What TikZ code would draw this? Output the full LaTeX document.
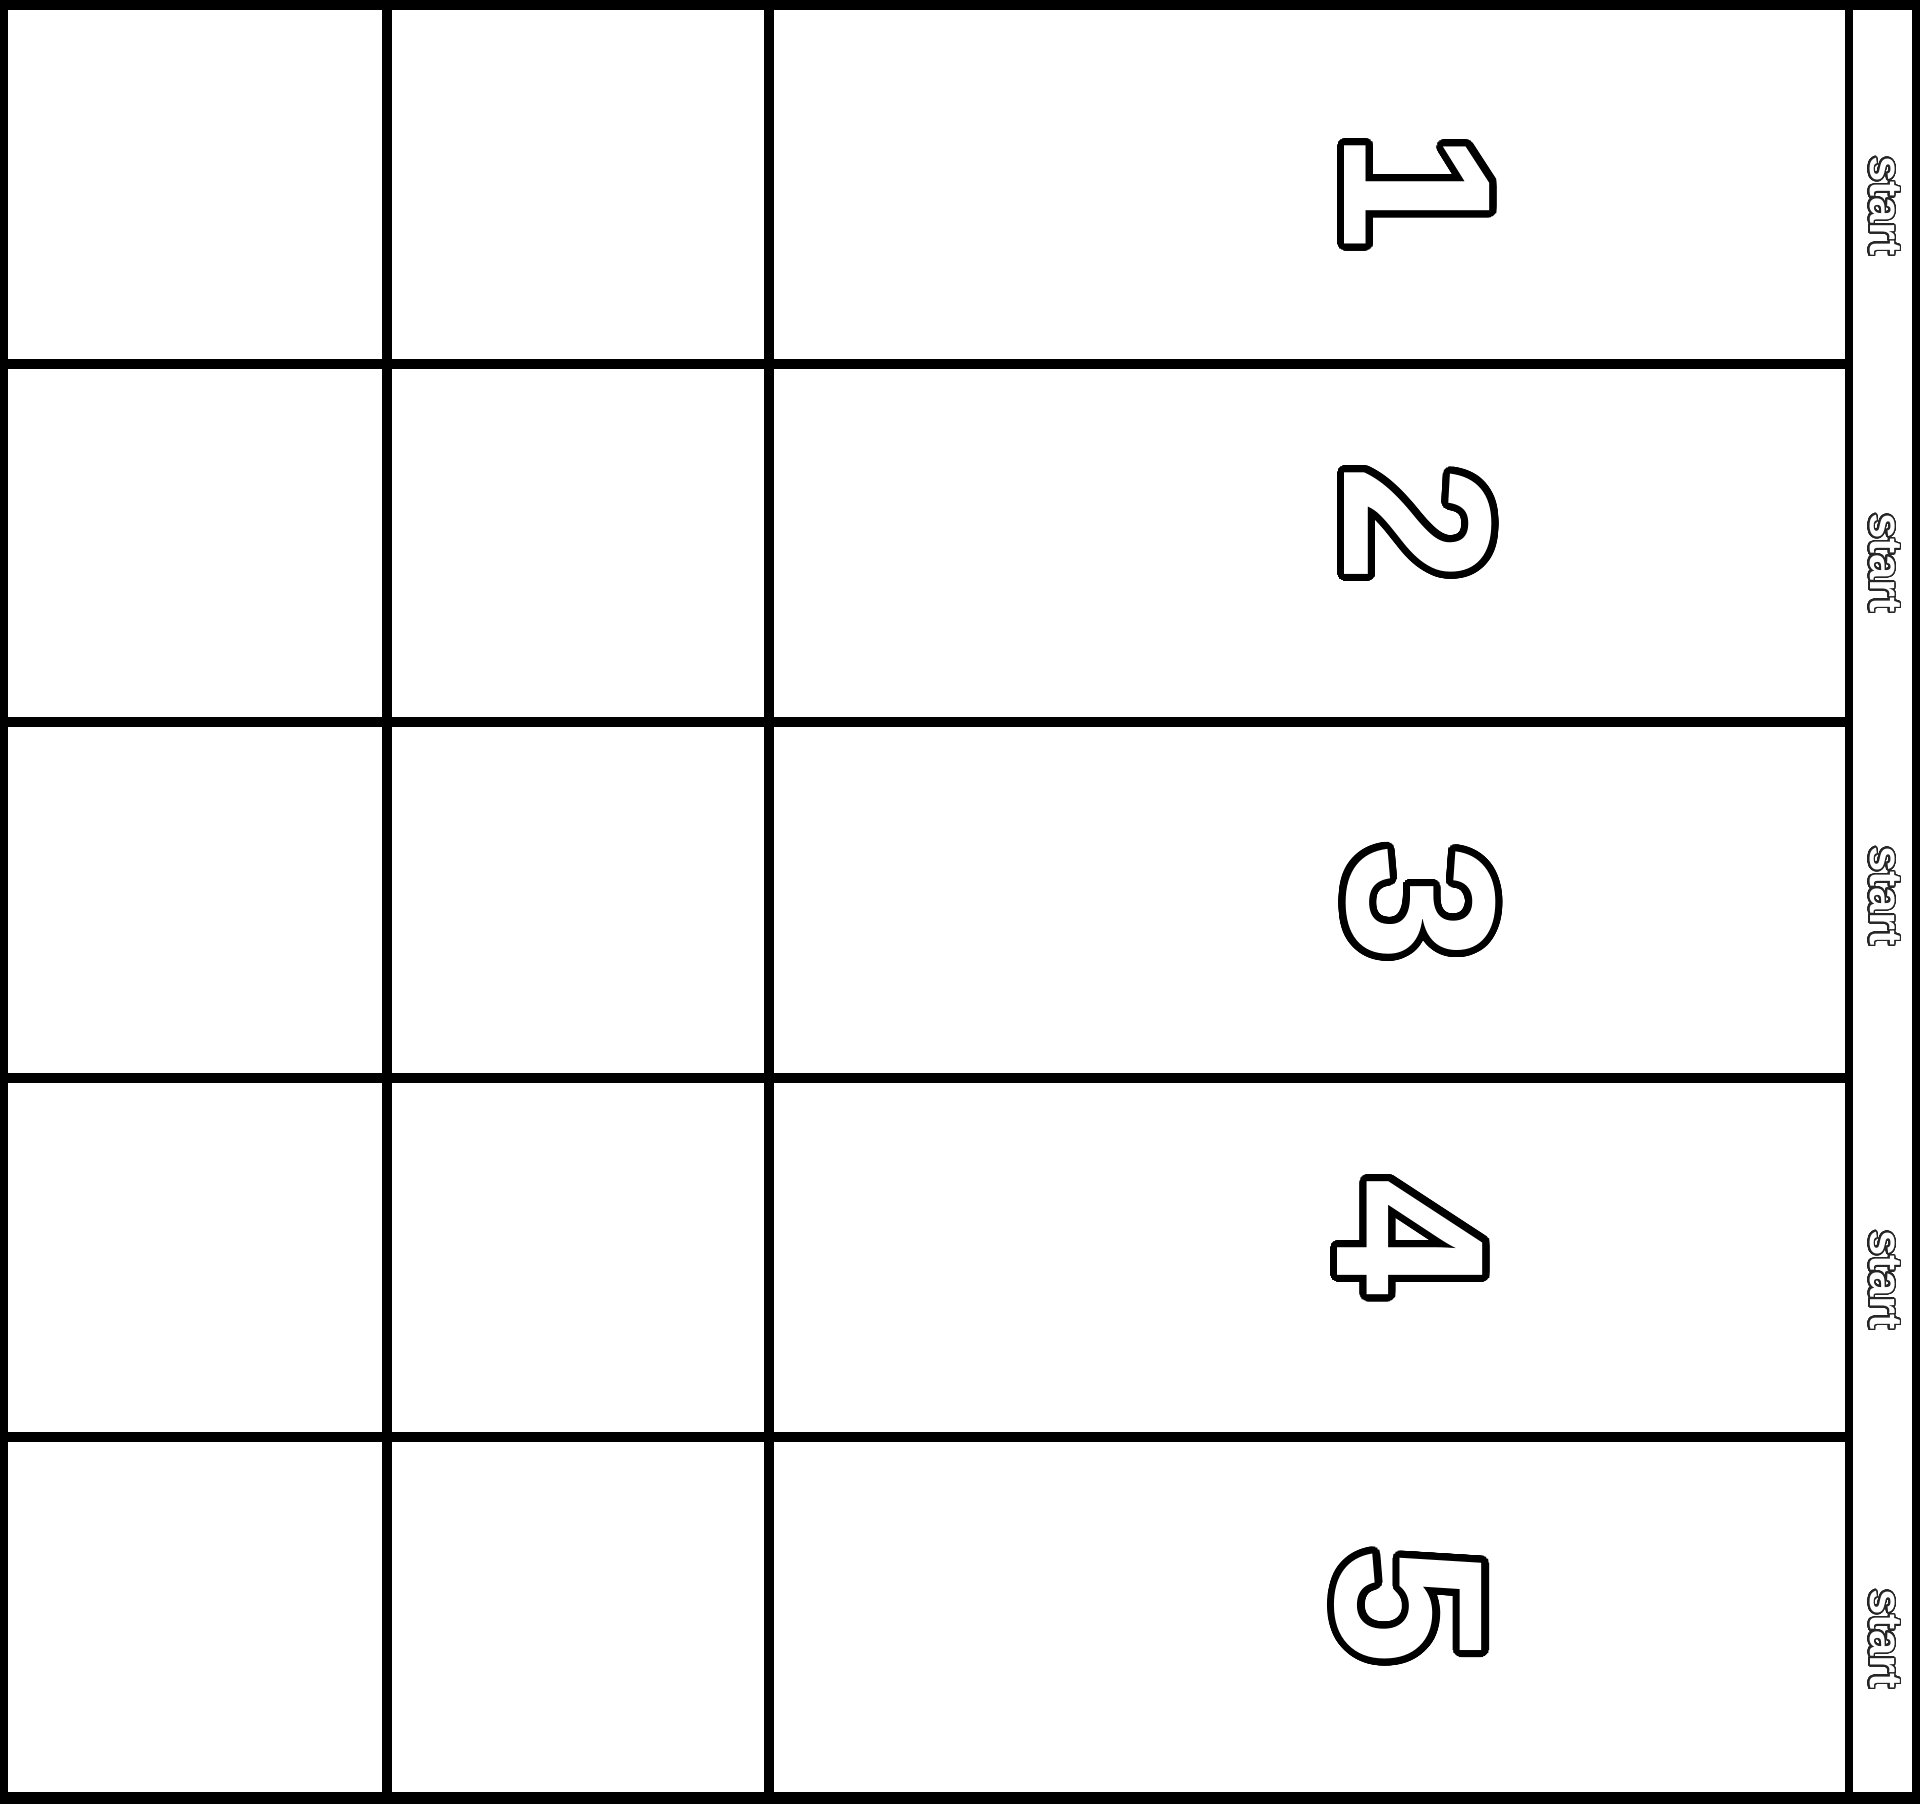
\documentclass[tikz,border=0pt]{standalone}
\usepackage{fontspec}
\setmainfont{Liberation Sans}
\usepackage{contour}
\contournumber{48}
\tikzset{
  heavy/.style={line width=2.85pt, black},
  medium/.style={line width=2.0pt, black},
  digit/.style={inner sep=0pt, rotate=-90, text=white, font=\fontsize{60}{60}\selectfont\bfseries},
  startlbl/.style={inner sep=0pt, rotate=-90, text=white, font=\fontsize{13}{13}\selectfont\bfseries},
}
\newcommand{\outl}[1]{\contourlength{2pt}\contour{black}{#1}}
\newcommand{\thinoutl}[1]{\contourlength{0.45pt}\contour{black!85}{#1}}
\begin{document}
\begin{tikzpicture}[x=0.01cm, y=-0.01cm]
\useasboundingbox (0,0) rectangle (1920,1804);
\fill[white] (0,0) rectangle (1920,1804);
% outer borders
\draw[heavy] (0,5) -- (1920,5);
\draw[heavy, line width=3.4pt] (0,1798) -- (1920,1798);
\draw[medium, line width=2.3pt] (4,0) -- (4,1804);
\draw[medium] (1916,0) -- (1916,1804);
% vertical lines
\draw[heavy, line width=2.6pt] (387,0) -- (387,1804);
\draw[heavy] (769,0) -- (769,1804);
\draw[medium] (1849,0) -- (1849,1804);
% horizontal lines
\draw[heavy] (0,364) -- (1849,364);
\draw[heavy] (0,722) -- (1849,722);
\draw[heavy] (0,1078) -- (1849,1078);
\draw[heavy] (0,1437) -- (1849,1437);
% digits
\node[digit] (d1) at (1414,191) {\outl{1}};
\node[digit] (d2) at (1415,524) {\outl{2}};
\node[digit] (d3) at (1417,903) {\outl{3}};
\node[digit] (d4) at (1407,1237) {\outl{4}};
\node[digit] (d5) at (1405,1606) {\outl{5}};
% start labels
\node[startlbl] (s1) at (1884,206) {\thinoutl{start}};
\node[startlbl] (s2) at (1884,563) {\thinoutl{start}};
\node[startlbl] (s3) at (1884,896) {\thinoutl{start}};
\node[startlbl] (s4) at (1884,1280) {\thinoutl{start}};
\node[startlbl] (s5) at (1884,1639) {\thinoutl{start}};
\end{tikzpicture}
\end{document}
